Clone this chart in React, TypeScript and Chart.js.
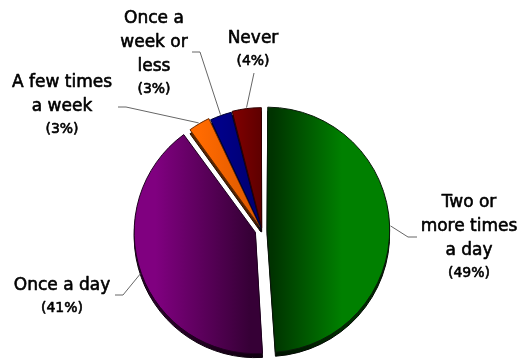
import React, { useEffect, useRef } from "react";
import { Chart, registerables } from "chart.js";

Chart.register(...registerables);

// ---- data ----
const categories = [
  "Two or more times a day",
  "Once a day",
  "A few times a week",
  "Once a week or less",
  "Never",
];
const labelLines = [
  ["Two or", "more times", "a day"],
  ["Once a day"],
  ["A few times", "a week"],
  ["Once a", "week or", "less"],
  ["Never"],
];
const percentages = [49, 41, 3, 3, 4];

// ---- styles ----
const explode = [20, 28, 12, 8, 10];
const gradStart = ["#003300", "#800080", "#ff6a00", "#000088", "#820000"];
const gradEnd = ["#008000", "#360036", "#e05a00", "#000070", "#5e0000"];
// gradient x-range relative to pie centre (px)
const gradFrom = [5, -100, -60, -40, -30];
const gradTo = [75, -5, -10, -5, 0];
const borderColors = ["#0a1a0a", "#200020", "#6a2a00", "#000030", "#300000"];

// label layout: centre x, first line y, elbow point, end point of leader
const labelLayout = [
  { x: 469, y: 203, elbow: [408, 237], end: [417, 237] },
  { x: 62, y: 286, elbow: [123, 295], end: [115, 295] },
  { x: 62, y: 83, elbow: [126, 107], end: [118, 107] },
  { x: 154, y: 19, elbow: [200, 52], end: [192, 52] },
  { x: 253, y: 39, elbow: [254, 73], end: [254, 73] },
];

const depthPlugin = {
  id: "depth",
  beforeDatasetsDraw(chart: any) {
    const ctx = chart.ctx;
    const meta = chart.getDatasetMeta(0);
    meta.data.forEach((el: any) => {
      ctx.save();
      ctx.translate(0, 4);
      ctx.filter = "brightness(35%)";
      el.draw(ctx);
      ctx.restore();
    });
  },
};

function boldText(ctx: CanvasRenderingContext2D, t: string, x: number, y: number) {
  ctx.strokeText(t, x, y);
  ctx.fillText(t, x, y);
}

const labelPlugin = {
  id: "pieLabels",
  afterDatasetsDraw(chart: any) {
    const ctx = chart.ctx;
    const meta = chart.getDatasetMeta(0);
    meta.data.forEach((el: any, i: number) => {
      const p = el.getProps(["x", "y", "startAngle", "endAngle", "outerRadius"], true);
      const off = (el.options.offset || 0) / 4;
      const half = (p.startAngle + p.endAngle) / 2;
      const circ = p.endAngle - p.startAngle;
      const fix = 1 - Math.sin(Math.min(Math.PI, circ));
      const r = p.outerRadius + off * fix;
      const ax = p.x + Math.cos(half) * (off + r + 1);
      const ay = p.y + Math.sin(half) * (off + r + 1);
      const L = labelLayout[i];
      ctx.save();
      ctx.strokeStyle = "#666";
      ctx.lineWidth = 1;
      ctx.beginPath();
      ctx.moveTo(ax, ay);
      ctx.lineTo(L.elbow[0], L.elbow[1]);
      ctx.lineTo(L.end[0], L.end[1]);
      ctx.stroke();
      ctx.fillStyle = "#000";
      ctx.strokeStyle = "#000";
      ctx.lineWidth = 0.6;
      ctx.lineJoin = "round";
      ctx.textAlign = "center";
      ctx.textBaseline = "middle";
      ctx.font = "17px 'DejaVu Sans'";
      const lines = labelLines[i];
      lines.forEach((t, k) => boldText(ctx, t, L.x, L.y + k * 24));
      ctx.font = "14px 'DejaVu Sans'";
      boldText(ctx, "(" + percentages[i] + "%)", L.x, L.y + (lines.length - 1) * 24 + 22);
      ctx.restore();
    });
  },
};

export default function App() {
  const ref = useRef<HTMLCanvasElement | null>(null);
  useEffect(() => {
    if (!ref.current) return;
    const chart = new Chart(ref.current, {
      type: "pie",
      data: {
        labels: categories,
        datasets: [
          {
            data: percentages,
            radius: 118,
            offset: explode,
            borderWidth: 1,
            borderColor: borderColors,
            backgroundColor: (c: any) => {
              const ch = c.chart;
              const area = ch.chartArea;
              const i = c.dataIndex;
              if (!area) return gradStart[i];
              const cx = (area.left + area.right) / 2;
              const g = ch.ctx.createLinearGradient(cx + gradFrom[i], 0, cx + gradTo[i], 0);
              g.addColorStop(0, gradStart[i]);
              g.addColorStop(1, gradEnd[i]);
              return g;
            },
          } as any,
        ],
      },
      options: {
        responsive: false,
        animation: false,
        devicePixelRatio: 1,
        layout: { padding: { left: 5, right: 0, top: 100, bottom: 0 } },
        plugins: {
          legend: { display: false },
          tooltip: { enabled: false },
        },
      },
      plugins: [depthPlugin, labelPlugin],
    });
    return () => chart.destroy();
  }, []);
  return (
    <div style={{ position: "absolute", left: 0, top: 0, width: 519, height: 360, background: "#fff" }}>
      <canvas ref={ref} width={519} height={360} style={{ display: "block" }} />
    </div>
  );
}
